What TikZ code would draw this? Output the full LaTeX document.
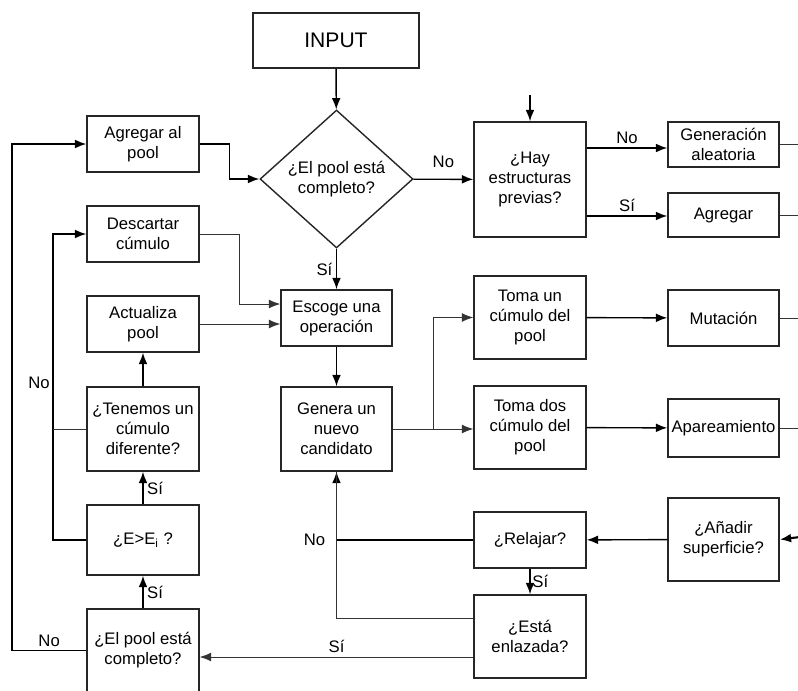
\documentclass[tikz,border=0pt]{standalone}
\usepackage{fontspec}
\setmainfont{Liberation Sans}
\usetikzlibrary{shapes.geometric,arrows.meta}

\begin{document}
\begin{tikzpicture}[x=0.02cm,y=-0.02cm] % координаты в пикселях
\tikzstyle{mybox} = [draw=black!85, line width=0.8pt, align=center, inner sep=1pt, font=\fontsize{9.5}{11.4}\selectfont, minimum width=2.24cm] % box style
\tikzstyle{mydiam} = [diamond, draw=black!85, line width=0.8pt, align=center, inner sep=0pt, font=\fontsize{9.5}{11.4}\selectfont, minimum width=3.06cm, minimum height=2.76cm] % decision style
\tikzstyle{myarrow} = [line width=0.8pt, -{Latex[length=6.5pt,width=5pt]}]
\tikzstyle{myline} = [line width=0.8pt]
\tikzstyle{mythin} = [line width=0.5pt, black!80]
\tikzstyle{mylabel} = [font=\fontsize{9.5}{11.4}\selectfont, inner sep=2pt, text=black]

\useasboundingbox (0,0) rectangle (798,690);

% центральная колонна
\node[mybox, minimum width=3.32cm, minimum height=1.1cm, font=\fontsize{12}{14}\selectfont] (input) at (336,40.5) {INPUT};
\node[mydiam] (pool) at (336.5,179) {¿El pool está\\completo?};
\node[mybox, minimum width=2.22cm, minimum height=1.12cm] (escoge) at (336.5,318) {Escoge una\\operación};
\node[mybox, minimum width=2.22cm, minimum height=1.68cm] (genera) at (336.5,429) {Genera un\\nuevo\\candidato};

% левая колонна
\node[mybox, minimum height=1.12cm] (agregarpool) at (143,144) {Agregar al\\pool};
\node[mybox, minimum height=1.12cm] (descartar) at (143,234) {Descartar\\cúmulo};
\node[mybox, minimum height=1.12cm] (actualiza) at (143,324) {Actualiza\\pool};
\node[mybox, minimum height=1.68cm] (tenemos) at (143,429) {¿Tenemos un\\cúmulo\\diferente?};
\node[mybox, minimum height=1.4cm] (emayor) at (143,540) {¿E>E\textsubscript{i} ?};
\node[mybox, minimum height=1.66cm] (poolcompleto) at (143,650.5) {¿El pool está\\completo?};

% правые колонны
\node[mybox, minimum height=2.3cm] (hay) at (530,179.5) {¿Hay\\estructuras\\previas?};
\node[mybox, minimum height=1.66cm] (tomaun) at (530,317.5) {Toma un\\cúmulo del\\pool};
\node[mybox, minimum height=1.66cm] (tomados) at (530,427.5) {Toma dos\\cúmulo del\\pool};
\node[mybox, minimum height=1.12cm] (relajar) at (530,540) {¿Relajar?};
\node[mybox, minimum height=1.66cm] (enlazada) at (530,636.5) {¿Está\\enlazada?};
\node[mybox, minimum width=2.22cm, minimum height=0.9cm] (generacion) at (723.5,144.5) {Generación\\aleatoria};
\node[mybox, minimum width=2.22cm, minimum height=0.88cm] (agregar) at (723.5,215) {Agregar};
\node[mybox, minimum width=2.22cm, minimum height=1.12cm] (mutacion) at (723.5,318) {Mutación};
\node[mybox, minimum width=2.22cm, minimum height=1.16cm] (apareamiento) at (723.5,428) {Apareamiento};
\node[mybox, minimum width=2.22cm, minimum height=1.66cm] (anadir) at (723.5,539.5) {¿Añadir\\superficie?};

% свободные концы
\coordinate (lft) at (12,400);
\coordinate (lft2) at (53,400);
\coordinate (rgt) at (800,0);
\coordinate (hayin) at (530,95);
\coordinate (anin) at (800,537);

% стрелки
\draw[myarrow] (input) -- (pool);
\draw[myarrow] (pool) -- node[mylabel, left] {Sí} (escoge);
\draw[myarrow] (escoge) -- (genera);
\draw[myarrow] (pool) -- node[mylabel, above, yshift=4pt] {No} (hay);
\draw[myarrow] (hayin) -- (hay);
\draw[myarrow] (agregarpool.east) -- ++(30,0) |- (pool.west);
\draw[myarrow] (poolcompleto.west) -| node[mylabel, above, pos=0.25] {No} (lft) |- (agregarpool.west);
\draw[myarrow] (emayor.west) -| (lft2) |- (descartar.west);
\node[mylabel] (lblno) at (39,383) {No};
\draw[mythin] (tenemos.west) -- (tenemos.west -| lft2);
\draw[myarrow, mythin] (descartar.east) -- ++(40,0) |- ([yshift=0.28cm]escoge.west);
\draw[myarrow, mythin] (actualiza.east) -- (actualiza.east -| escoge.west);
\draw[myarrow] (tenemos) -- (actualiza);
\draw[myarrow] (emayor) -- node[mylabel, right] {Sí} (tenemos);
\draw[myarrow] (poolcompleto) -- node[mylabel, right] {Sí} (emayor);

\draw[myarrow] ([yshift=0.63cm]hay.east) -- node[mylabel, above] {No} ([yshift=0.63cm]hay.east -| generacion.west);
\draw[myarrow] ([yshift=-0.73cm]hay.east) -- node[mylabel, above] {Sí} ([yshift=-0.73cm]hay.east -| agregar.west);
\draw[mythin] (generacion.east) -- (generacion.east -| rgt);
\draw[mythin] (agregar.east) -- (agregar.east -| rgt);
\draw[mythin] (mutacion.east) -- (mutacion.east -| rgt);
\draw[mythin] (apareamiento.east) -- (apareamiento.east -| rgt);

\draw[myarrow, mythin] (genera.east) -- ++(41,0) coordinate (gsplit) |- (tomaun.west);
\draw[myarrow, mythin] (gsplit) -- (gsplit -| tomados.west);
\draw[myarrow] (tomaun) -- (mutacion);
\draw[myarrow] (tomados) -- (apareamiento);

\draw[myarrow, line width=1.2pt] (anin) -- (anadir.east);
\draw[myarrow] (anadir) -- (relajar);
\draw[myarrow] (relajar.west) -| node[mylabel, left, pos=0.5, xshift=-4pt] {No} (genera.south);
\draw[myarrow] (relajar) -- node[mylabel, right, inner sep=1pt] {Sí} (enlazada);
\draw[mythin] ([yshift=0.37cm]enlazada.west) -| (genera.south);
\draw[myarrow, mythin] ([yshift=-0.41cm]enlazada.west) -- node[mylabel, above] {Sí} ([yshift=-0.41cm]enlazada.west -| poolcompleto.east);
\end{tikzpicture}
\end{document}
